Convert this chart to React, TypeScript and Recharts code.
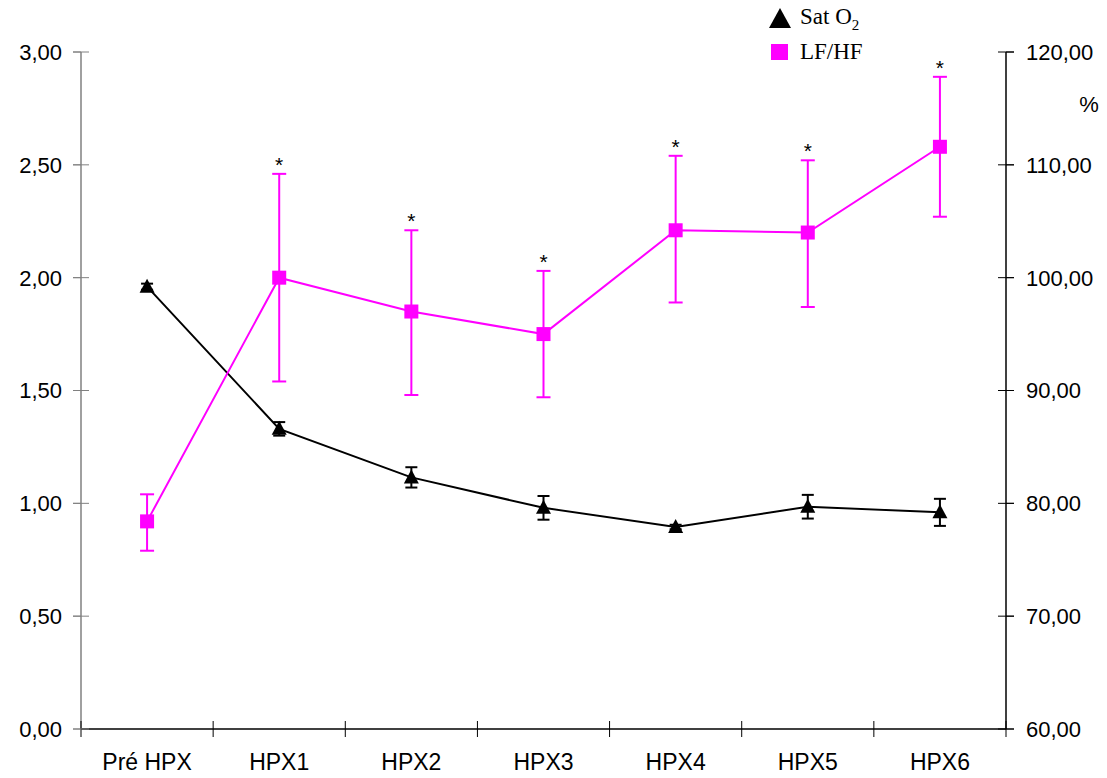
import { ComposedChart, ErrorBar, LabelList, Legend, Line, XAxis, YAxis } from "recharts";

const categories = ["Pré HPX", "HPX1", "HPX2", "HPX3", "HPX4", "HPX5", "HPX6"];
// LF/HF, left axis
const lfhf = [0.92, 2.0, 1.85, 1.75, 2.21, 2.2, 2.58];
const lfhfLow = [0.79, 1.54, 1.48, 1.47, 1.89, 1.87, 2.27];
const lfhfHigh = [1.04, 2.46, 2.21, 2.03, 2.54, 2.52, 2.89];
const marks = ["", "*", "*", "*", "*", "*", "*"];
// Sat O2 (%), right axis
const satO2 = [99.2, 86.6, 82.3, 79.6, 77.9, 79.7, 79.2];
const satO2Err = [0.27, 0.6, 0.9, 1.05, 0.2, 1.05, 1.2];

const leftTicks = [0, 0.5, 1, 1.5, 2, 2.5, 3];
const rightTicks = [60, 70, 80, 90, 100, 110, 120];

const data = categories.map((name, i) => ({
  idx: i,
  name,
  lfhf: lfhf[i],
  lfErr: [lfhf[i] - lfhfLow[i], lfhfHigh[i] - lfhf[i]],
  lfTop: lfhfHigh[i],
  mark: marks[i],
  sat: satO2[i],
  satErr: satO2Err[i],
}));

// ticks on category borders (half steps) and labels on category centres
const xTicks = categories.flatMap((_, i) => [i - 0.5, i]).concat(categories.length - 0.5);

const PINK = "#ff00ff";
const SANS = "'Liberation Sans', Arial, sans-serif";
const SERIF = "'Liberation Serif', 'Times New Roman', serif";
const TICK = 8;

const comma = (v: number) => v.toFixed(2).replace(".", ",");

function XTick({ x, y, payload }: any) {
  const v = payload.value as number;
  if (Number.isInteger(v)) {
    return (
      <text x={x} y={y + 41} textAnchor="middle" fontSize={23} fontFamily={SANS} fill="#000">
        {categories[v]}
      </text>
    );
  }
  return <line x1={x} x2={x} y1={y - TICK} y2={y + TICK} stroke="#000" strokeWidth={1} />;
}

function LeftTick({ x, y, payload }: any) {
  const ax = x + TICK + 11;
  return (
    <g>
      <line x1={ax - TICK} x2={ax + TICK} y1={y} y2={y} stroke="#808080" strokeWidth={1} />
      <text x={x} y={y} dy="0.36em" textAnchor="end" fontSize={22} fontFamily={SANS} fill="#000">
        {comma(payload.value)}
      </text>
    </g>
  );
}

function RightTick({ x, y, payload }: any) {
  const ax = x - TICK - 12;
  return (
    <g>
      <line x1={ax - TICK} x2={ax + TICK} y1={y} y2={y} stroke="#000" strokeWidth={1} />
      <text x={x} y={y} dy="0.36em" textAnchor="start" fontSize={22} fontFamily={SANS} fill="#000">
        {comma(payload.value)}
      </text>
    </g>
  );
}

function Square(p: any) {
  if (p.cx == null || p.cy == null) return <g key={`sq-${p.index}`} />;
  return <rect key={`sq-${p.index}`} x={p.cx - 7} y={p.cy - 7} width={14} height={14} fill={PINK} />;
}

function Triangle(p: any) {
  if (p.cx == null || p.cy == null) return <g key={`tr-${p.index}`} />;
  const { cx, cy } = p;
  return (
    <polygon
      key={`tr-${p.index}`}
      points={`${cx},${cy - 8} ${cx - 7.5},${cy + 6} ${cx + 7.5},${cy + 6}`}
      fill="#000"
    />
  );
}

function Star({ x, y, value }: any) {
  if (!value) return null;
  return (
    <text x={x} y={y - 2} textAnchor="middle" fontSize={21} fontFamily={SANS} fill="#000">
      {value}
    </text>
  );
}

function PercentLabel({ viewBox }: any) {
  return (
    <text x={viewBox.x + 83} y={viewBox.y + 60} textAnchor="middle" fontSize={22} fontFamily={SANS} fill="#000">
      %
    </text>
  );
}

function LegendBox() {
  const row = { display: "flex", alignItems: "center", height: 34 } as const;
  return (
    <div style={{ fontFamily: SERIF, fontSize: 23, color: "#000", lineHeight: "26px" }}>
      <div style={row}>
        <svg width={24} height={22} style={{ marginRight: 8 }}>
          <polygon points="12,1 1,21 23,21" fill="#000" />
        </svg>
        <span>
          Sat O<span style={{ fontSize: 15, position: "relative", top: 6 }}>2</span>
        </span>
      </div>
      <div style={row}>
        <svg width={24} height={22} style={{ marginRight: 8 }}>
          <rect x={3} y={3} width={17} height={16} fill={PINK} />
        </svg>
        <span>LF/HF</span>
      </div>
    </div>
  );
}

export default function App() {
  return (
    <div style={{ position: "absolute", left: 0, top: 0, background: "#fff" }}>
      <ComposedChart width={1107} height={778} data={data} margin={{ top: 52, right: 0, bottom: 0, left: 0 }}>
        <XAxis
          dataKey="idx"
          type="number"
          domain={[-0.5, categories.length - 0.5]}
          ticks={xTicks}
          interval={0}
          tick={<XTick />}
          tickLine={false}
          tickSize={0}
          tickMargin={0}
          height={49}
          stroke="#000"
          axisLine={{ stroke: "#000", strokeWidth: 1.5 }}
        />
        <YAxis
          yAxisId="left"
          domain={[0, 3]}
          ticks={leftTicks}
          interval={0}
          width={81}
          tickSize={TICK}
          tickMargin={11}
          tickLine={{ stroke: "#808080" }}
          axisLine={{ stroke: "#808080", strokeWidth: 1.5 }}
          tick={<LeftTick />}
        />
        <YAxis
          yAxisId="right"
          orientation="right"
          domain={[60, 120]}
          ticks={rightTicks}
          interval={0}
          width={101}
          tickSize={TICK}
          tickMargin={12}
          tickLine={{ stroke: "#000" }}
          axisLine={{ stroke: "#000", strokeWidth: 1.5 }}
          tick={<RightTick />}
          label={<PercentLabel />}
        />
        <Legend
          layout="horizontal"
          verticalAlign="middle"
          align="center"
          content={<LegendBox />}
          wrapperStyle={{ position: "absolute", left: 768, top: 1, width: "auto" }}
        />
        <Line
          yAxisId="right"
          dataKey="sat"
          stroke="#000"
          strokeWidth={2}
          dot={Triangle}
          activeDot={false}
          isAnimationActive={false}
        >
          <ErrorBar dataKey="satErr" direction="y" width={6} stroke="#000" strokeWidth={2} />
        </Line>
        <Line
          yAxisId="left"
          dataKey="lfhf"
          stroke={PINK}
          strokeWidth={2}
          dot={Square}
          activeDot={false}
          isAnimationActive={false}
        >
          <ErrorBar dataKey="lfErr" direction="y" width={7} stroke={PINK} strokeWidth={2} />
        </Line>
        <Line
          yAxisId="left"
          dataKey="lfTop"
          stroke="none"
          dot={false}
          activeDot={false}
          legendType="none"
          isAnimationActive={false}
        >
          <LabelList dataKey="mark" content={<Star />} />
        </Line>
      </ComposedChart>
    </div>
  );
}
